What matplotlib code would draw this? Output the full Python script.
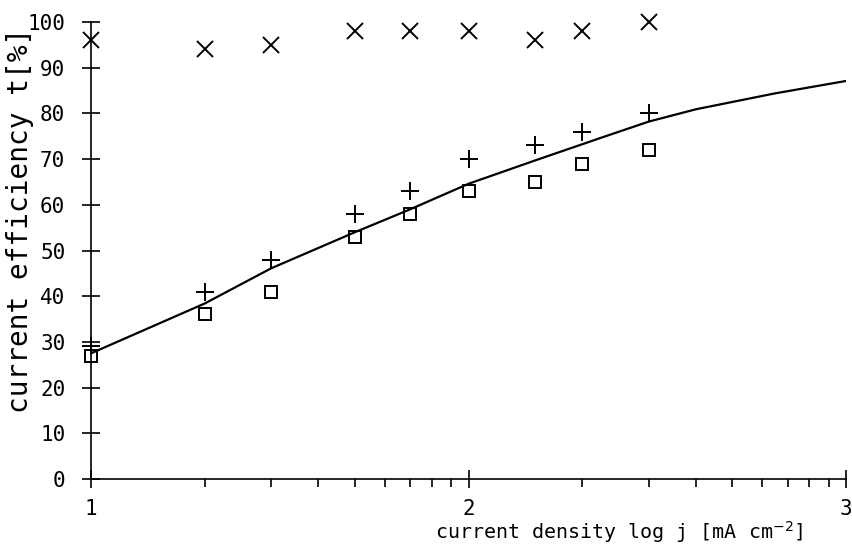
"""
Current efficiency vs. current density (plotter-style chart)
"""

import numpy as np
import matplotlib
matplotlib.use("Agg")
import matplotlib.pyplot as plt
from matplotlib.ticker import FixedLocator, NullFormatter

# --- DATA --- #
# current density j [mA cm^-2] (x axis shows log j)
j_points = [10, 20, 30, 50, 70, 100, 150, 200, 300]
eff_cross = [96, 94, 95, 98, 98, 98, 96, 98, 100]
eff_plus = [29, 41, 48, 58, 63, 70, 73, 76, 80]
eff_square = [27, 36, 41, 53, 58, 63, 65, 69, 72]

# fitted curve
j_curve = [10, 20, 30, 50, 70, 100, 150, 225, 300, 400, 650, 1000]
eff_curve = [27.5, 38.4, 46.1, 54, 59, 64.6, 69.7, 74.7, 78.2, 80.9, 84.4, 87.1]

x_major = [10, 100, 1000]
x_major_labels = ["1", "2", "3"]
y_ticks = list(range(0, 101, 10))

# --- PLOT --- #
font = "DejaVu Sans Mono"
fig = plt.figure(figsize=(8.53, 5.45), dpi=100)
ax = fig.add_axes([0.1067, 0.1211, 0.8851, 0.8385])

ax.plot(j_curve, eff_curve, color="black", lw=1.6)
ax.plot(j_points, eff_cross, ls="none", marker="x", ms=11, mew=1.4,
        color="black", clip_on=False)
ax.plot(j_points, eff_plus, ls="none", marker="+", ms=13, mew=1.4,
        color="black", clip_on=False)
ax.plot(j_points, eff_square, ls="none", marker="s", ms=8, mew=1.4,
        mfc="none", mec="black", clip_on=False)

ax.set_xscale("log")
ax.set_xlim(10, 1000)
ax.set_ylim(0, 100)

ax.xaxis.set_major_locator(FixedLocator(x_major))
ax.set_xticklabels(x_major_labels)
minor = [k * d for d in (10, 100) for k in range(2, 10)]
ax.xaxis.set_minor_locator(FixedLocator(minor))
ax.xaxis.set_minor_formatter(NullFormatter())
ax.set_yticks(y_ticks)
ax.set_yticklabels([str(v) for v in y_ticks])

for s in ["top", "right"]:
    ax.spines[s].set_visible(False)
for s in ["left", "bottom"]:
    ax.spines[s].set_linewidth(1.2)

ax.tick_params(axis="y", direction="inout", length=13, width=1.2, pad=12,
               labelsize=15)
ax.tick_params(axis="x", which="major", direction="inout", length=13, width=1.2,
               pad=8, labelsize=15)
ax.tick_params(axis="x", which="minor", direction="out", length=6, width=1.2)
for lbl in ax.get_xticklabels() + ax.get_yticklabels():
    lbl.set_family(font)

ax.set_xlabel("current density log j [mA cm$^{-2}$]", fontsize=14.4, family=font)
ax.xaxis.set_label_coords(0.699, -0.088)
ax.set_ylabel("current efficiency t[%]", fontsize=20, family=font)
ax.yaxis.set_label_coords(-0.076, 0.566)

fig.savefig("out.png", dpi=100)
